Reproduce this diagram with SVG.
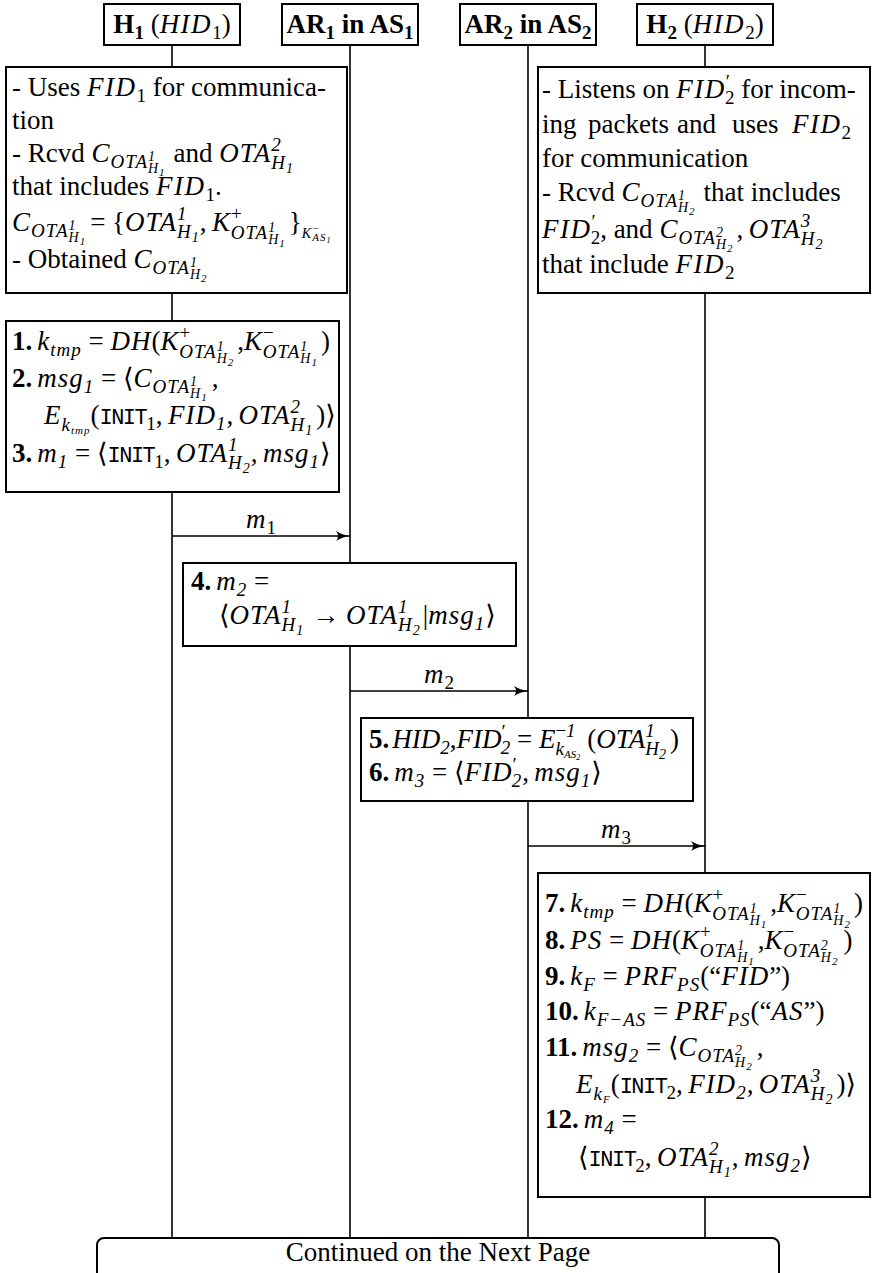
<svg xmlns="http://www.w3.org/2000/svg" width="874" height="1273" viewBox="0 0 874 1273">
<style>
.t{font-family:"Liberation Serif","DejaVu Serif",serif;font-size:27px;fill:#000}
.i{font-style:italic;letter-spacing:1px}
.i0{font-style:italic}
.b{font-weight:bold}
.s1{font-size:19px}
.s2{font-size:14px}
.s3{font-size:11px}
.s4{font-size:8px}
.tt{font-family:"Liberation Mono",monospace;font-size:22px;letter-spacing:-1.5px}
.ls{letter-spacing:1.5px}
.box{fill:#fff;stroke:#000;stroke-width:2}
.life{stroke:#000;stroke-width:1.6;fill:none}
.msg{stroke:#000;stroke-width:1.6;fill:none;marker-end:url(#arr)}
</style>
<defs>
<marker id="arr" markerUnits="userSpaceOnUse" viewBox="0 0 14 10" refX="14" refY="5" markerWidth="14" markerHeight="10" orient="auto">
<path d="M0,0 Q6,4 14,5 Q6,6 0,10 Q4,5 0,0 Z" fill="#000"/>
</marker>
</defs>
<rect width="874" height="1273" fill="#fff"/>
<g id="connectors">
<line class="life" x1="172" y1="45" x2="172" y2="1238"/>
<line class="life" x1="350" y1="45" x2="350" y2="1238"/>
<line class="life" x1="528" y1="45" x2="528" y2="1238"/>
<line class="life" x1="705" y1="45" x2="705" y2="1238"/>
<line class="msg" x1="172" y1="536" x2="350" y2="536"/>
<line class="msg" x1="350" y1="691" x2="528" y2="691"/>
<line class="msg" x1="528" y1="846" x2="705" y2="846"/>
<text class="t" x="261" y="528" text-anchor="middle"><tspan class="i">m</tspan><tspan class="s1" dy="6">1</tspan></text>
<text class="t" x="439" y="683" text-anchor="middle"><tspan class="i">m</tspan><tspan class="s1" dy="6">2</tspan></text>
<text class="t" x="616" y="838" text-anchor="middle"><tspan class="i">m</tspan><tspan class="s1" dy="6">3</tspan></text>
</g>
<g id="h1">
<rect class="box" x="104" y="4" width="136" height="41"/>
<text class="t" x="172" y="33" text-anchor="middle"><tspan class="b">H</tspan><tspan class="b s1" dy="6">1</tspan><tspan dy="-6"> (</tspan><tspan class="i ls">HID</tspan><tspan class="s1" dy="6">1</tspan><tspan dy="-6">)</tspan></text>
</g>
<g id="ar1">
<rect class="box" x="282" y="4" width="136" height="41"/>
<text class="t" x="350" y="33" text-anchor="middle"><tspan class="b">AR</tspan><tspan class="b s1" dy="6">1</tspan><tspan class="b" dy="-6"> in AS</tspan><tspan class="b s1" dy="6">1</tspan></text>
</g>
<g id="ar2">
<rect class="box" x="460" y="4" width="136" height="41"/>
<text class="t" x="528" y="33" text-anchor="middle"><tspan class="b">AR</tspan><tspan class="b s1" dy="6">2</tspan><tspan class="b" dy="-6"> in AS</tspan><tspan class="b s1" dy="6">2</tspan></text>
</g>
<g id="h2">
<rect class="box" x="637" y="4" width="136" height="41"/>
<text class="t" x="705" y="33" text-anchor="middle"><tspan class="b">H</tspan><tspan class="b s1" dy="6">2</tspan><tspan dy="-6"> (</tspan><tspan class="i ls">HID</tspan><tspan class="s1" dy="6">2</tspan><tspan dy="-6">)</tspan></text>
</g>
<g id="h1-state">
<rect class="box" x="6" y="67" width="341" height="226"/>
<text class="t" x="12" y="96">- Uses <tspan class="i ls">FID</tspan><tspan class="s1" dy="6">1</tspan><tspan dy="-6"> for communica-</tspan></text>
<text class="t" x="12" y="129">tion</text>
<text class="t" x="12" y="162">- Rcvd <tspan class="i">C</tspan><tspan class="i s1" dy="6">OTA</tspan><tspan class="i s2" dy="-7">1</tspan><tspan class="i s2" dx="-8" dy="12">H</tspan><tspan class="i s3" dy="3">1</tspan><tspan dy="-14" dx="8">and </tspan><tspan class="i">OTA</tspan><tspan class="i s1" dy="-11">2</tspan><tspan class="i s1" dx="-10.5" dy="18">H</tspan><tspan class="i s2" dy="4">1</tspan></text>
<text class="t" x="12" y="195">that includes <tspan class="i ls">FID</tspan><tspan class="s1" dy="6">1</tspan><tspan dy="-6">.</tspan></text>
<text class="t" x="12" y="231"><tspan class="i">C</tspan><tspan class="i s1" dy="6">OTA</tspan><tspan class="i s2" dy="-7">1</tspan><tspan class="i s2" dx="-8" dy="12">H</tspan><tspan class="i s3" dy="3">1</tspan><tspan dy="-14" dx="4">= {</tspan><tspan class="i">OTA</tspan><tspan class="i s1" dy="-11">1</tspan><tspan class="i s1" dx="-10.5" dy="18">H</tspan><tspan class="i s2" dy="4">1</tspan><tspan dy="-11">,&#8201;</tspan><tspan class="i">K</tspan><tspan class="s1" dy="-11">+</tspan><tspan class="i s1" dx="-11" dy="19">OTA</tspan><tspan class="i s2" dy="-7">1</tspan><tspan class="i s2" dx="-8" dy="12">H</tspan><tspan class="i s3" dy="3">1</tspan><tspan dy="-16" dx="3">}</tspan><tspan class="i s2" dy="7">K</tspan><tspan class="s3" dy="-6">−</tspan><tspan class="i s3" dx="-6" dy="9">AS</tspan><tspan class="i s4" dy="2">1</tspan></text>
<text class="t" x="12" y="268">- Obtained <tspan class="i">C</tspan><tspan class="i s1" dy="6">OTA</tspan><tspan class="i s2" dy="-7">1</tspan><tspan class="i s2" dx="-8" dy="12">H</tspan><tspan class="i s3" dy="3">2</tspan></text>
</g>
<g id="h2-state">
<rect class="box" x="538" y="67" width="332" height="226"/>
<text class="t" x="542" y="98">- Listens on <tspan class="i ls">FID</tspan><tspan class="s1" dy="-10">′</tspan><tspan class="s1" dx="-5" dy="16">2</tspan><tspan dy="-6"> for incom-</tspan></text>
<text class="t" y="133"><tspan x="542">ing</tspan><tspan x="588">packets</tspan><tspan x="677">and</tspan><tspan x="732">uses</tspan><tspan x="792" class="i ls">FID</tspan><tspan class="s1" dy="6">2</tspan></text>
<text class="t" x="542" y="167">for communication</text>
<text class="t" x="542" y="201">- Rcvd <tspan class="i">C</tspan><tspan class="i s1" dy="6">OTA</tspan><tspan class="i s2" dy="-7">1</tspan><tspan class="i s2" dx="-8" dy="12">H</tspan><tspan class="i s3" dy="3">2</tspan><tspan dy="-14" dx="8">that includes</tspan></text>
<text class="t" x="542" y="238"><tspan class="i ls">FID</tspan><tspan class="s1" dy="-10">′</tspan><tspan class="s1" dx="-5" dy="16">2</tspan><tspan dy="-6">, and </tspan><tspan class="i">C</tspan><tspan class="i s1" dy="6">OTA</tspan><tspan class="i s2" dy="-7">2</tspan><tspan class="i s2" dx="-8" dy="12">H</tspan><tspan class="i s3" dy="3">2</tspan><tspan dy="-14" dx="3">,&#8201;</tspan><tspan class="i">OTA</tspan><tspan class="i s1" dy="-11">3</tspan><tspan class="i s1" dx="-10.5" dy="18">H</tspan><tspan class="i s2" dy="4">2</tspan></text>
<text class="t" x="542" y="273">that include <tspan class="i ls">FID</tspan><tspan class="s1" dy="6">2</tspan></text>
</g>
<g id="steps-1-3">
<rect class="box" x="6" y="321" width="333" height="171"/>
<text class="t" x="12" y="350"><tspan class="b">1.</tspan><tspan class="i" dx="5">k</tspan><tspan class="i s1" dy="6">tmp</tspan><tspan dy="-6"> = </tspan><tspan class="i">DH</tspan><tspan>(</tspan><tspan class="i">K</tspan><tspan class="s1" dy="-11">+</tspan><tspan class="i s1" dx="-11" dy="19">OTA</tspan><tspan class="i s2" dy="-7">1</tspan><tspan class="i s2" dx="-8" dy="12">H</tspan><tspan class="i s3" dy="3">2</tspan><tspan dy="-16" dx="3">,</tspan><tspan class="i">K</tspan><tspan class="s1" dy="-11">−</tspan><tspan class="i s1" dx="-11" dy="19">OTA</tspan><tspan class="i s2" dy="-7">1</tspan><tspan class="i s2" dx="-8" dy="12">H</tspan><tspan class="i s3" dy="3">1</tspan><tspan dy="-16" dx="3">)</tspan></text>
<text class="t" x="12" y="387"><tspan class="b">2.</tspan><tspan class="i" dx="5">msg</tspan><tspan class="i s1" dy="6">1</tspan><tspan dy="-6"> = ⟨</tspan><tspan class="i">C</tspan><tspan class="i s1" dy="6">OTA</tspan><tspan class="i s2" dy="-7">1</tspan><tspan class="i s2" dx="-8" dy="12">H</tspan><tspan class="i s3" dy="3">1</tspan><tspan dy="-14" dx="4">,</tspan></text>
<text class="t" x="44" y="424"><tspan class="i">E</tspan><tspan class="i s1" dy="7">k</tspan><tspan class="i s3" dy="3">tmp</tspan><tspan dy="-10">(</tspan><tspan class="tt">INIT</tspan><tspan class="s1" dy="6">1</tspan><tspan dy="-6">,&#8201;</tspan><tspan class="i">FID</tspan><tspan class="i s1" dy="6">1</tspan><tspan dy="-6">,&#8201;</tspan><tspan class="i">OTA</tspan><tspan class="i s1" dy="-11">2</tspan><tspan class="i s1" dx="-10.5" dy="18">H</tspan><tspan class="i s2" dy="4">1</tspan><tspan dy="-11" dx="3">)⟩</tspan></text>
<text class="t" x="12" y="462"><tspan class="b">3.</tspan><tspan class="i" dx="5">m</tspan><tspan class="i s1" dy="6">1</tspan><tspan dy="-6"> = ⟨</tspan><tspan class="tt">INIT</tspan><tspan class="s1" dy="6">1</tspan><tspan dy="-6">,&#8201;</tspan><tspan class="i">OTA</tspan><tspan class="i s1" dy="-11">1</tspan><tspan class="i s1" dx="-10.5" dy="18">H</tspan><tspan class="i s2" dy="4">2</tspan><tspan dy="-11">,&#8201;</tspan><tspan class="i">msg</tspan><tspan class="i s1" dy="6">1</tspan><tspan dy="-6">⟩</tspan></text>
</g>
<g id="step-4">
<rect class="box" x="183" y="563" width="333" height="83"/>
<text class="t" x="191" y="590"><tspan class="b">4.</tspan><tspan class="i" dx="5">m</tspan><tspan class="i s1" dy="6">2</tspan><tspan dy="-6"> =</tspan></text>
<text class="t" x="219" y="624"><tspan>⟨</tspan><tspan class="i">OTA</tspan><tspan class="i s1" dy="-11">1</tspan><tspan class="i s1" dx="-10.5" dy="18">H</tspan><tspan class="i s2" dy="4">1</tspan><tspan dy="-11" dx="8">→ </tspan><tspan class="i">OTA</tspan><tspan class="i s1" dy="-11">1</tspan><tspan class="i s1" dx="-10.5" dy="18">H</tspan><tspan class="i s2" dy="4">2</tspan><tspan dy="-11" dx="2">|</tspan><tspan class="i">msg</tspan><tspan class="i s1" dy="6">1</tspan><tspan dy="-6">⟩</tspan></text>
</g>
<g id="steps-5-6">
<rect class="box" x="361" y="718" width="332" height="83"/>
<text class="t" x="369" y="748"><tspan class="b">5.</tspan><tspan class="i0" dx="3">HID</tspan><tspan class="i0 s1" dy="6">2</tspan><tspan dy="-6">,</tspan><tspan class="i0">FID</tspan><tspan class="s1" dy="-10">′</tspan><tspan class="i0 s1" dx="-5" dy="16">2</tspan><tspan dy="-6"> = </tspan><tspan class="i0">E</tspan><tspan class="s1" dy="-11">−</tspan><tspan class="i0 s1">1</tspan><tspan class="i0 s1" dx="-20" dy="18">k</tspan><tspan class="i0 s3" dy="3">AS</tspan><tspan class="i0 s4" dy="2">2</tspan><tspan dy="-12" dx="7">(</tspan><tspan class="i0">OTA</tspan><tspan class="i0 s1" dy="-11">1</tspan><tspan class="i0 s1" dx="-9.5" dy="18">H</tspan><tspan class="i0 s2" dy="4">2</tspan><tspan dy="-11" dx="4">)</tspan></text>
<text class="t" x="369" y="781"><tspan class="b">6.</tspan><tspan class="i" dx="5">m</tspan><tspan class="i s1" dy="6">3</tspan><tspan dy="-6"> = ⟨</tspan><tspan class="i">FID</tspan><tspan class="s1" dy="-10">′</tspan><tspan class="i s1" dx="-5" dy="16">2</tspan><tspan dy="-6">,&#8201;</tspan><tspan class="i">msg</tspan><tspan class="i s1" dy="6">1</tspan><tspan dy="-6">⟩</tspan></text>
</g>
<g id="steps-7-12">
<rect class="box" x="538" y="873" width="332" height="324"/>
<text class="t" x="545" y="912"><tspan class="b">7.</tspan><tspan class="i" dx="5">k</tspan><tspan class="i s1" dy="6">tmp</tspan><tspan dy="-6"> = </tspan><tspan class="i">DH</tspan><tspan>(</tspan><tspan class="i">K</tspan><tspan class="s1" dy="-11">+</tspan><tspan class="i s1" dx="-11" dy="19">OTA</tspan><tspan class="i s2" dy="-7">1</tspan><tspan class="i s2" dx="-8" dy="12">H</tspan><tspan class="i s3" dy="3">1</tspan><tspan dy="-16" dx="3">,</tspan><tspan class="i">K</tspan><tspan class="s1" dy="-11">−</tspan><tspan class="i s1" dx="-11" dy="19">OTA</tspan><tspan class="i s2" dy="-7">1</tspan><tspan class="i s2" dx="-8" dy="12">H</tspan><tspan class="i s3" dy="3">2</tspan><tspan dy="-16" dx="3">)</tspan></text>
<text class="t" x="545" y="949"><tspan class="b">8.</tspan><tspan class="i" dx="5">PS</tspan><tspan> = </tspan><tspan class="i">DH</tspan><tspan>(</tspan><tspan class="i">K</tspan><tspan class="s1" dy="-11">+</tspan><tspan class="i s1" dx="-11" dy="19">OTA</tspan><tspan class="i s2" dy="-7">1</tspan><tspan class="i s2" dx="-8" dy="12">H</tspan><tspan class="i s3" dy="3">1</tspan><tspan dy="-16" dx="3">,</tspan><tspan class="i">K</tspan><tspan class="s1" dy="-11">−</tspan><tspan class="i s1" dx="-11" dy="19">OTA</tspan><tspan class="i s2" dy="-7">2</tspan><tspan class="i s2" dx="-8" dy="12">H</tspan><tspan class="i s3" dy="3">2</tspan><tspan dy="-16" dx="5">)</tspan></text>
<text class="t" x="545" y="985"><tspan class="b">9.</tspan><tspan class="i" dx="5">k</tspan><tspan class="i s1" dy="6">F</tspan><tspan dy="-6"> = </tspan><tspan class="i">PRF</tspan><tspan class="i s1" dy="6">PS</tspan><tspan dy="-6">(“</tspan><tspan class="i">FID</tspan><tspan>”)</tspan></text>
<text class="t" x="545" y="1020"><tspan class="b">10.</tspan><tspan class="i" dx="5">k</tspan><tspan class="i s1" dy="6">F−AS</tspan><tspan dy="-6"> = </tspan><tspan class="i">PRF</tspan><tspan class="i s1" dy="6">PS</tspan><tspan dy="-6">(“</tspan><tspan class="i">AS</tspan><tspan>”)</tspan></text>
<text class="t" x="545" y="1056"><tspan class="b">11.</tspan><tspan class="i" dx="5">msg</tspan><tspan class="i s1" dy="6">2</tspan><tspan dy="-6"> = ⟨</tspan><tspan class="i">C</tspan><tspan class="i s1" dy="6">OTA</tspan><tspan class="i s2" dy="-7">2</tspan><tspan class="i s2" dx="-8" dy="12">H</tspan><tspan class="i s3" dy="3">2</tspan><tspan dy="-14" dx="4">,</tspan></text>
<text class="t" x="576" y="1093"><tspan class="i">E</tspan><tspan class="i s1" dy="7">k</tspan><tspan class="i s3" dy="3">F</tspan><tspan dy="-10">(</tspan><tspan class="tt">INIT</tspan><tspan class="s1" dy="6">2</tspan><tspan dy="-6">,&#8201;</tspan><tspan class="i">FID</tspan><tspan class="i s1" dy="6">2</tspan><tspan dy="-6">,&#8201;</tspan><tspan class="i">OTA</tspan><tspan class="i s1" dy="-11">3</tspan><tspan class="i s1" dx="-10.5" dy="18">H</tspan><tspan class="i s2" dy="4">2</tspan><tspan dy="-11" dx="3">)⟩</tspan></text>
<text class="t" x="545" y="1128"><tspan class="b">12.</tspan><tspan class="i" dx="5">m</tspan><tspan class="i s1" dy="6">4</tspan><tspan dy="-6"> =</tspan></text>
<text class="t" x="578" y="1166"><tspan>⟨</tspan><tspan class="tt">INIT</tspan><tspan class="s1" dy="6">2</tspan><tspan dy="-6">,&#8201;</tspan><tspan class="i">OTA</tspan><tspan class="i s1" dy="-11">2</tspan><tspan class="i s1" dx="-10.5" dy="18">H</tspan><tspan class="i s2" dy="4">1</tspan><tspan dy="-11">,&#8201;</tspan><tspan class="i">msg</tspan><tspan class="i s1" dy="6">2</tspan><tspan dy="-6">⟩</tspan></text>
</g>
<g id="continued">
<rect class="box" x="97" y="1238" width="682" height="70" rx="7"/>
<text class="t" x="438" y="1261" text-anchor="middle">Continued on the Next Page</text>
</g>
</svg>
